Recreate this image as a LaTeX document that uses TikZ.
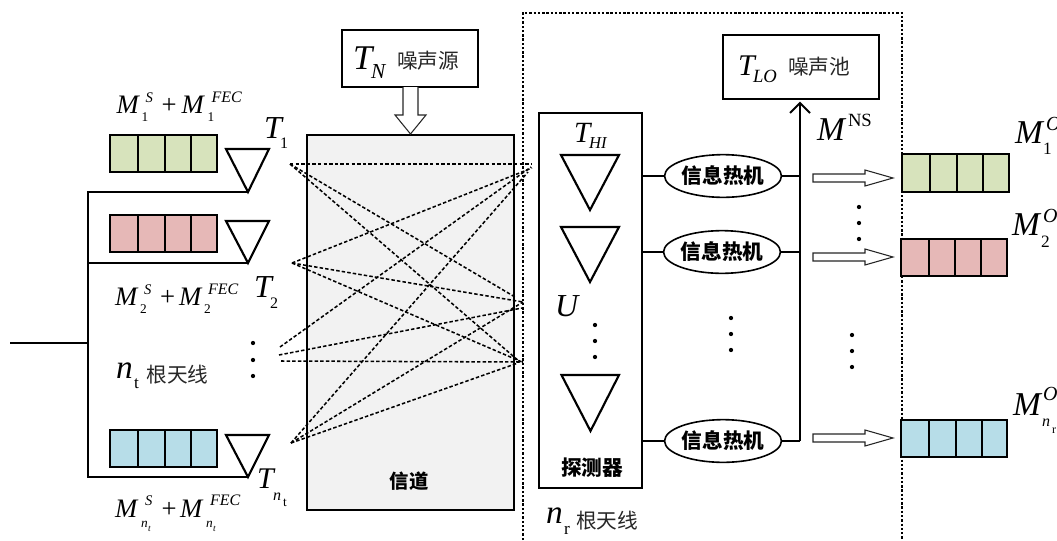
\documentclass[tikz,border=0pt]{standalone}
\usepackage{fontspec}
\setmainfont{Liberation Serif}
\newfontfamily\cjk{Noto Sans CJK SC}
\usetikzlibrary{shapes.geometric}
\definecolor{gbar}{HTML}{D7E3BC}
\definecolor{pbar}{HTML}{E6B8B7}
\definecolor{bbar}{HTML}{B7DDE8}
\definecolor{chan}{HTML}{F2F2F2}
\newlength{\pxu}\setlength{\pxu}{0.75pt}
\newcommand{\sz}[1]{\fontsize{#1}{#1}\selectfont}
% piece of a formula: x offset (px), raise (px), size (pt), content
\newcommand{\piece}[4]{\rlap{\kern#1\pxu\raisebox{#2\pxu}{\sz{#3}#4}}}
\newcommand{\fourbar}[8]{%
  \draw[barline,fill=#1] (#2,#3) rectangle (#4,#5);
  \draw[barline] (#6,#3)--(#6,#5) (#7,#3)--(#7,#5) (#8,#3)--(#8,#5);}
\tikzset{
  barline/.style={line width=1.4pt,draw=black},
  wire/.style={line width=1.4pt,draw=black},
  tri/.style={line width=1.6pt,draw=black,fill=white,line join=miter},
  plainbox/.style={line width=1.2pt,draw=black,fill=white},
  link/.style={line width=1.15pt,draw=black,dash pattern=on 2.6pt off 1.6pt},
  frameline/.style={line width=1.1pt,draw=black,dash pattern=on 1.8pt off 1.4pt},
  txt/.style={inner sep=0pt,outer sep=0pt,anchor=base west},
  engine/.style={ellipse,draw=black,line width=1.2pt,fill=white,minimum width=84pt,minimum height=32pt,inner sep=0pt,font=\cjk\bfseries\sz{15.5}},
  hollow/.style={line width=0.8pt,draw=black!85,fill=white,line join=miter},
  dotn/.style={circle,fill=black,inner sep=0pt,minimum size=3.2pt},
}
\begin{document}
\begin{tikzpicture}[x=0.75pt,y=-0.75pt]
\useasboundingbox (0,0) rectangle (1057,540);
% channel
\node[draw=black,line width=1.2pt,fill=chan,minimum width=155.25pt,minimum height=281.25pt,inner sep=0pt] (channel) at (410.5,322.5) {};
\node[font=\cjk\bfseries\sz{14.5},inner sep=0pt] (chanlabel) at (409,481) {信道};
% frame
\coordinate (fa) at (523,540); \coordinate (fb) at (523,13);
\coordinate (fc) at (902,13); \coordinate (fd) at (902,540);
\draw[frameline] (fa)--(fb)--(fc)--(fd);
% noise source
\node[plainbox,minimum width=102pt,minimum height=42.75pt,inner sep=0pt] (source) at (410,58.5) {};
\node[txt] (tn) at (353,69) {\piece{0}{0}{26}{\textit{T}}\piece{18}{-9}{16}{\textit{N}}\kern33\pxu};
\node[font=\cjk\sz{15.5},inner sep=0pt,text=black!85] (srclabel) at (428,61) {噪声源};
\draw[hollow] (403,87)--(403,115)--(395,115)--(410.5,134)--(426,115)--(418,115)--(418,87);
% transmit bars
\fourbar{gbar}{110}{135}{217}{172}{138}{165}{191}
\fourbar{pbar}{110}{215}{217}{252}{138}{165}{191}
\fourbar{bbar}{110}{430}{217}{467}{138}{165}{191}
% transmit wires and antennas
\coordinate (in) at (10,343); \coordinate (bus) at (88,343);
\coordinate (a1) at (248,192); \coordinate (a2) at (248,263); \coordinate (a3) at (248,477);
\draw[wire] (a1)--(88,192)--(88,477)--(a3);
\draw[wire] (88,263)--(a2);
\draw[wire] (in)--(bus);
\draw[tri] (226,149)--(269,149)--(a1)--cycle;
\draw[tri] (226,221)--(269,221)--(a2)--cycle;
\draw[tri] (226,435)--(269,435)--(a3)--cycle;
\node[dotn] (t1) at (253,343) {}; \node[dotn] (t2) at (253,360) {}; \node[dotn] (t3) at (253,376) {};
% links
\coordinate (A) at (290,164); \coordinate (B) at (292,263);
\coordinate (C1) at (280,347); \coordinate (C2) at (279,355); \coordinate (C3) at (281,361);
\coordinate (D) at (291,443);
\coordinate (R1) at (531,164); \coordinate (R1b) at (532,168); \coordinate (R1c) at (531,167); \coordinate (R1d) at (528,172);
\coordinate (R2) at (515,297); \coordinate (R2b) at (523,302); \coordinate (R2c) at (522,308);
\coordinate (R3) at (520,362); \coordinate (R3b) at (522,362); \coordinate (R3c) at (523,362); \coordinate (R3d) at (518,363);
\foreach \p/\q in {A/R1,A/R2,A/R3,B/R1b,B/R2b,B/R3b,C1/R1c,C2/R2c,C3/R3c,D/R1d,D/R2b,D/R3d}
  \draw[link] (\p)--(\q);
% detector
\node[plainbox,fill=white,minimum width=77.25pt,minimum height=281.25pt,inner sep=0pt] (detector) at (590.5,300.5) {};
\node[txt] (thi) at (574,142) {\piece{0}{0}{22}{\textit{T}}\piece{15}{-6}{12.5}{\textit{HI}}\kern34\pxu};
\draw[tri] (561,155)--(619,155)--(590,210)--cycle;
\draw[tri] (561,227)--(619,227)--(590,282)--cycle;
\draw[tri] (561.5,375)--(619,375)--(590.5,431)--cycle;
\node[txt,font=\sz{24}] (u) at (555,316) {\textit{U}};
\node[dotn] (d1) at (595,325) {}; \node[dotn] (d2) at (595,341) {}; \node[dotn] (d3) at (595,357) {};
\node[font=\cjk\bfseries\sz{15.5},inner sep=0pt] (detlabel) at (592,468) {探测器};
% sink
\node[plainbox,minimum width=117pt,minimum height=48pt,inner sep=0pt] (sink) at (801,67) {};
\node[txt] (tlo) at (738,75) {\piece{0}{0}{22.5}{\textit{T}}\piece{15}{-7}{14}{\textit{LO}}\kern39\pxu};
\node[font=\cjk\sz{15.5},inner sep=0pt,text=black!85] (sinklabel) at (819,66.5) {噪声池};
% engines
\node[engine] (e1) at (723,176) {信息热机};
\node[engine] (e2) at (722,252) {信息热机};
\node[engine] (e3) at (723,441) {信息热机};
\coordinate (v1) at (800,176); \coordinate (v2) at (800,252); \coordinate (v3) at (800,441);
\coordinate (vtop) at (800,103);
\draw[wire] (e1.west)--(642,176); \draw[wire] (e1.east)--(v1);
\draw[wire] (e2.west)--(642,252); \draw[wire] (e2.east)--(v2);
\draw[wire] (e3.west)--(642,441); \draw[wire] (e3.east)--(v3);
\draw[wire] (v3)--(vtop);
\draw[wire] (790,113)--(vtop)--(810,113);
\node[txt] (mns) at (817,140) {\piece{0}{0}{25}{\textit{M}}\piece{31}{14}{14}{NS}\kern55\pxu};
\node[dotn] (m1) at (731,318) {}; \node[dotn] (m2) at (731,334) {}; \node[dotn] (m3) at (731,350) {};
\node[dotn] (r1) at (852,335) {}; \node[dotn] (r2) at (852,351) {}; \node[dotn] (r3) at (852,367) {};
\node[dotn] (q1) at (859,207) {}; \node[dotn] (q2) at (859,223) {}; \node[dotn] (q3) at (859,239) {};
% hollow output arrows
\foreach \yy in {178,257,438}
  \draw[hollow] (813,\yy-4)--(865,\yy-4)--(865,\yy-8)--(893,\yy)--(865,\yy+8)--(865,\yy+4)--(813,\yy+4)--cycle;
% output bars
\fourbar{gbar}{902}{154}{1009}{192}{930}{957}{983}
\fourbar{pbar}{901}{239}{1007}{276}{929}{955}{981}
\fourbar{bbar}{901}{420}{1007}{457}{929}{956}{982}
% labels
\node[txt] (l1) at (116.5,113) {\piece{0}{0}{20}{\textit{M}}\piece{25}{-8}{10}{1}\piece{29}{11}{11}{\textit{S}}\piece{45}{0}{20}{+}\piece{65}{0}{20}{\textit{M}}\piece{91}{-8}{10}{1}\piece{95}{11}{12}{\textit{FEC}}\kern124\pxu};
\node[txt] (l2) at (115,305) {\piece{0}{0}{20}{\textit{M}}\piece{25}{-8}{10}{2}\piece{29}{11}{11}{\textit{S}}\piece{45}{0}{20}{+}\piece{64}{0}{20}{\textit{M}}\piece{89}{-8}{10}{2}\piece{93}{11}{12}{\textit{FEC}}\kern123\pxu};
\node[txt] (l3) at (115,517) {\piece{0}{0}{20}{\textit{M}}\piece{26}{-10}{10}{\textit{n}}\piece{33}{-14}{7}{\textit{t}}\piece{30}{12}{11}{\textit{S}}\piece{46.5}{0}{20}{+}\piece{65}{0}{20}{\textit{M}}\piece{91}{-10}{10}{\textit{n}}\piece{98}{-14}{7}{\textit{t}}\piece{95}{12}{12}{\textit{FEC}}\kern124\pxu};
\node[txt] (t1l) at (264,138) {\piece{0}{0}{24}{\textit{T}}\piece{16}{-10}{12}{1}\kern24\pxu};
\node[txt] (t2l) at (254,297) {\piece{0}{0}{24}{\textit{T}}\piece{16}{-11}{12}{2}\kern24\pxu};
\node[txt] (t3l) at (257,488) {\piece{0}{0}{22.5}{\textit{T}}\piece{16}{-12}{12}{\textit{n}}\piece{26}{-18}{10}{t}\kern32\pxu};
\node[txt] (nt) at (116,378) {\piece{0}{0}{25}{\textit{n}}\piece{18}{-10}{13}{t}\kern24\pxu};
\node[font=\cjk\sz{15.5},inner sep=0pt,text=black!85] (ntl) at (177.5,375) {根天线};
\node[txt] (nr) at (546,523) {\piece{0}{0}{25}{\textit{n}}\piece{18}{-11}{13}{r}\kern24\pxu};
\node[font=\cjk\sz{15.5},inner sep=0pt,text=black!85] (nrl) at (607,520.5) {根天线};
\node[txt] (o1) at (1015,143) {\piece{0}{0}{25}{\textit{M}}\piece{28}{-11}{13}{1}\piece{31}{13}{15}{\textit{O}}\kern42\pxu};
\node[txt] (o2) at (1012,235) {\piece{0}{0}{25}{\textit{M}}\piece{29}{-12}{13}{2}\piece{31}{13}{15}{\textit{O}}\kern45\pxu};
\node[txt] (o3) at (1013,415) {\piece{0}{0}{25}{\textit{M}}\piece{29}{-11}{12}{\textit{n}}\piece{39}{-18}{9}{r}\piece{30}{15}{15}{\textit{O}}\kern44\pxu};
\end{tikzpicture}
\end{document}
